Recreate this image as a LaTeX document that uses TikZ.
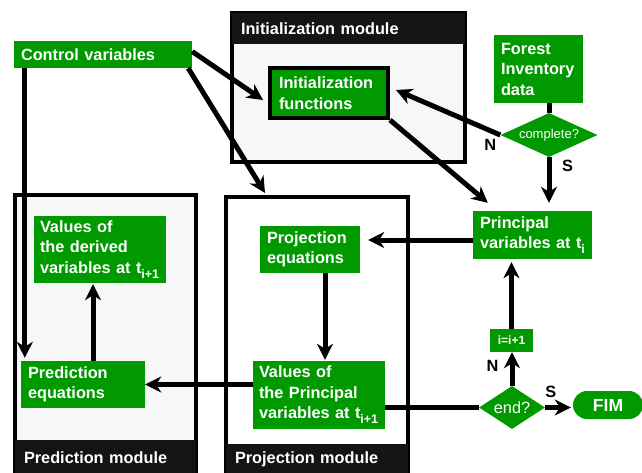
\documentclass[tikz,border=0pt]{standalone}
\usepackage{fontspec}
\setmainfont{Liberation Sans}
\usepackage{tikz}
\usetikzlibrary{arrows.meta,positioning,calc,shapes.geometric}
\definecolor{simgreen}{RGB}{0,153,0}
\definecolor{headblack}{RGB}{20,20,20}
\definecolor{modgray}{RGB}{247,247,247}
\newcommand{\subidx}[1]{\raisebox{-5pt}{\fontsize{12.5}{12}\selectfont #1}}

\begin{document}
\begin{tikzpicture}[x=1pt,y=-1pt,
	gbox/.style={rectangle, fill=simgreen, text=white, align=left, inner xsep=7pt, inner ysep=0pt, font=\bfseries\fontsize{16.3}{20.5}\selectfont},
	module/.style={rectangle, draw=black, line width=4pt, inner sep=0pt},
	modhead/.style={rectangle, fill=headblack, text=white, align=left, inner xsep=9pt, inner ysep=0pt, font=\bfseries\fontsize{16.3}{20.5}\selectfont},
	decision/.style={diamond, fill=simgreen, text=white, inner sep=0pt},
	lbl/.style={inner sep=0pt, font=\bfseries\fontsize{16.3}{20}\selectfont},
	arr/.style={-{Stealth[length=16pt,width=16pt,inset=5pt]}, line width=5pt},
	lnk/.style={line width=5pt}]
		\useasboundingbox (0,0) rectangle (642,472);
		% modules
		\node at (348.5,87.5) [module, fill=modgray, minimum width=233pt, minimum height=149pt] (initmod) {};
		\node at (348.5,28.5) [modhead, text width=215pt, minimum height=31pt] (inithead) {Initialization module};
		\node at (105.5,334.5) [module, fill=modgray, minimum width=181pt, minimum height=279pt] (predmod) {};
		\node at (105.5,458) [modhead, text width=163pt, minimum height=36pt] (predhead) {Prediction module};
		\node at (317,335.5) [module, fill=white, minimum width=182pt, minimum height=277pt] (projmod) {};
		\node at (317,459) [modhead, text width=164pt, minimum height=30pt] (projhead) {Projection module};
		% boxes
		\node at (103,54.5) [gbox, text width=164pt, minimum height=27pt] (ctrl) {Control variables};
		\node at (329,93) [gbox, draw=black, line width=4pt, inner xsep=9pt, text width=100pt, minimum height=50pt] (initf) {Initialization\\functions};
		\node at (538.5,69) [gbox, text width=75pt, minimum height=68pt] (fid) {Forest\\Inventory\\data};
		\node at (549,135) [decision, aspect=2.2, minimum width=97pt, minimum height=44pt, font=\fontsize{13}{15}\selectfont] (complete) {complete?};
		\node at (532.5,235) [gbox, text width=105pt, minimum height=48pt] (princ) {Principal\\variables at t\subidx{i}};
		\node at (310,249.5) [gbox, text width=86pt, minimum height=47pt] (projeq) {Projection\\equations};
		\node at (319,395) [gbox, inner xsep=6pt, text width=120pt, minimum height=68pt] (valp) {Values of\\the Principal\\variables at t\subidx{i+1}};
		\node at (100,249.5) [gbox, inner xsep=6pt, text width=120pt, minimum height=67pt] (derv) {Values of\\the derived\\variables at t\subidx{i+1}};
		\node at (83,384.5) [gbox, text width=110pt, minimum height=47pt] (predeq) {Prediction\\equations};
		\node at (512,407.5) [decision, aspect=1.5, minimum width=66pt, minimum height=43pt, font=\fontsize{16.3}{18}\selectfont] (endq) {end?};
		\node at (511.5,340.5) [gbox, align=center, inner xsep=0pt, minimum width=43pt, minimum height=23pt, font=\bfseries\fontsize{12}{14}\selectfont] (incr) {i=i+1};
		\node at (608,405) [gbox, align=center, rounded corners=14pt, minimum width=70pt, minimum height=28pt, font=\bfseries\fontsize{17.5}{20}\selectfont] (fim) {FIM};
		\coordinate (projin) at (265,193);
		% connectors
		\draw [arr] ([yshift=3pt]ctrl.east) -- ([xshift=-5pt,yshift=-7pt]initf.west);
		\draw [arr] ([xshift=-4pt]ctrl.south east) -- (projin);
		\draw [arr] ([xshift=11pt]ctrl.south west) -- ([xshift=4pt,yshift=3pt]predeq.north west);
		\draw [lnk] (complete.north) -- (complete.north |- fid.south);
		\draw [arr] (complete.south) -- ([yshift=8pt]complete.south |- princ.north);
		\draw [arr] (complete.west) -- ([xshift=6pt,yshift=3pt]initf.east);
		\draw [arr] (initf.south east) -- ([xshift=15pt,yshift=8pt]princ.north west);
		\draw [arr] ([yshift=-5pt]princ.west) -- ([xshift=8pt,yshift=-5pt]princ.west -| projeq.east);
		\draw [arr] ([xshift=15pt]projeq.south) -- ([xshift=15pt,yshift=1pt]projeq.south |- valp.north);
		\draw [arr] (predeq.east -| valp.west) -- (predeq.east);
		\draw [arr] ([xshift=10pt]predeq.north) -- ([xshift=10pt,yshift=-1pt]predeq.north |- derv.south);
		\draw [lnk] (valp.east |- endq.west) -- (endq.west);
		\draw [arr] (endq.east) -- ([xshift=-2pt]endq.east -| fim.west);
		\draw [arr] (endq.north) -- (endq.north |- incr.south);
		\draw [arr] (incr.north) -- ([yshift=-3pt]incr.north |- princ.south);
		% labels
		\node [lbl, below left=4pt and 4pt of complete.west] (compno) {N};
		\node [lbl, below right=3pt and 13pt of complete.south] (compyes) {S};
		\node [lbl, above left=14pt and 13.5pt of endq.north] (endno) {N};
		\node [lbl, above right=9.5pt and 0pt of endq.east] (endyes) {S};
\end{tikzpicture}
\end{document}
